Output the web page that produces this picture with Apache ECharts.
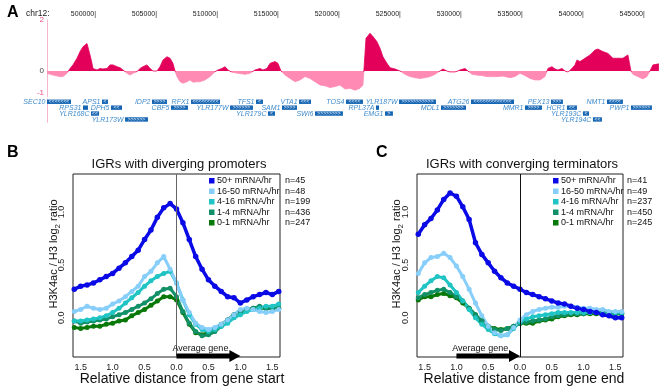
<!DOCTYPE html>
<html lang="en">
<head>
<meta charset="UTF-8">
<title>H3K4ac / H3</title>
<script src="https://cdn.jsdelivr.net/npm/echarts@6/dist/echarts.min.js"></script>
<style>
    html, body {margin: 0; padding: 0; background: #fff;}
    #main {width: 659px; height: 390px;}
</style>
</head>
<body>
<div id="main"></div>
<script>
// ---- panel A: chr12 track ----
var trackTicks = [500000, 505000, 510000, 515000, 520000, 525000, 530000, 535000, 540000, 545000];
var trackPos = [495980, 496470, 497050, 497290, 497620, 497870, 498110, 498440, 498690, 498930, 499260, 499340, 499510, 499670, 499750,
    500080, 500330, 500570, 500900, 501150, 501390, 501720, 501970, 502210, 502540, 502790, 503030, 503360, 503610, 503850,
    504180, 504430, 504670, 505000, 505250, 505490, 505820, 506070, 506310, 506480, 506640, 506890, 507130, 507460, 507710,
    507950, 508280, 508530, 508940, 509350, 509760, 510000, 510330, 510580, 510820, 511150, 511640, 512220, 512630, 513040,
    513450, 513690, 514020, 514270, 514680, 514920, 515170, 515500, 515910, 516320, 516730, 517140, 517550, 517960, 518370,
    518780, 519190, 519600, 520010, 520420, 520830, 521240, 521650, 521890, 522020, 522140, 522220, 522470, 522710, 523040,
    523290, 523530, 523860, 524110, 524520, 524930, 525340, 525750, 526160, 526570, 526980, 527390, 527800, 528210, 528450,
    528780, 529030, 529440, 529850, 530260, 530500, 530830, 531240, 531650, 532060, 532470, 532880, 533370, 533950, 534360,
    534770, 535180, 535590, 536000, 536410, 536820, 537060, 537390, 537640, 537880, 538210, 538460, 538700, 539030, 539280,
    539440, 539690, 540100, 540510, 540920, 541160, 541570, 541980, 542390, 542800, 543210, 543620, 543870, 544030, 544440,
    544850, 545180, 545430, 545670, 545920, 546160];
var trackVal = [-0.09, -0.16, -0.22, -0.22, -0.09, 0.10, 0.24, 0.50, 0.76, 0.95, 1.08, 1.02, 0.63, 0.30, 0.10,
    0.04, 0.10, 0.08, 0.10, 0.24, 0.24, 0.17, 0.13, 0.04, -0.09, -0.16, -0.09, -0.03, 0.10, 0.17,
    0.24, 0.10, 0.00, 0.00, 0.17, 0.43, 0.56, 0.50, 0.30, 0.00, -0.22, -0.42, -0.48, -0.42, -0.35,
    -0.44, -0.42, -0.42, -0.35, -0.22, -0.03, 0.04, 0.10, 0.17, 0.04, -0.05, -0.09, -0.13, -0.09, 0.04,
    0.10, 0.04, 0.10, 0.30, 0.37, 0.30, 0.00, -0.16, -0.29, -0.42, -0.35, -0.22, -0.29, -0.42, -0.55,
    -0.58, -0.65, -0.61, -0.55, -0.71, -0.68, -0.75, -0.68, -0.55, -0.50, 1.28, 1.35, 1.48, 1.35, 1.15,
    0.89, 0.56, 0.30, 0.13, 0.08, 0.00, -0.13, -0.22, -0.26, -0.29, -0.26, -0.22, -0.13, 0.00, 0.08,
    0.00, -0.05, -0.05, 0.04, 0.10, 0.00, -0.13, -0.16, -0.18, -0.22, -0.22, -0.22, -0.20, -0.26, -0.22,
    -0.09, -0.18, -0.29, -0.35, -0.35, -0.22, 0.10, 0.17, 0.08, 0.04, 0.10, 0.00, -0.05, 0.10, 0.24,
    0.43, 0.37, 0.50, 0.63, 0.82, 0.86, 0.76, 0.69, 0.50, 0.50, 0.50, 0.63, 0.00, -0.13, -0.22,
    -0.31, -0.22, 0.00, 0.24, 0.26, 0.28];

// genes under the track (row 0 = top row, strand 1 = >, -1 = <)
var geneName = ['SEC10', 'RPS31', 'YLR168C', 'APS1', 'DPH5', 'YLR173W', 'IDP2', 'CBF5', 'RFX1', 'YLR177W', 'TFS1', 'YLR179C', 'SAM1', 'VTA1',
    'SWI6', 'TOS4', 'RPL37A', 'EMG1', 'YLR187W', 'MDL1', 'ATG26', 'MMR1', 'PEX13', 'HCR1', 'YLR193C', 'YLR194C', 'NMT1', 'PWP1'];
var geneStart = [495000, 498930, 499590, 500490, 501230, 502380, 504590, 506150, 507790, 510990, 513120, 514100, 515250, 516650,
    517960, 520500, 522960, 523700, 524850, 528290, 530750, 535180, 537310, 538620, 539930, 540750, 541900, 543870];
var geneEnd = [497950, 499340, 500250, 500980, 502130, 504260, 505820, 507540, 510170, 512870, 513690, 514680, 516480, 517630,
    520250, 521890, 523210, 524350, 527880, 530340, 534280, 536570, 538290, 539440, 540430, 541490, 543210, 545590];
var geneRow = [0, 1, 2, 0, 1, 3, 0, 1, 0, 1, 0, 2, 1, 0, 2, 0, 1, 2, 0, 1, 0, 1, 0, 1, 2, 3, 0, 1];
var geneStrand = [-1, 1, -1, -1, -1, 1, 1, 1, -1, 1, -1, -1, 1, -1, 1, -1, 1, 1, 1, 1, -1, 1, 1, -1, -1, -1, -1, 1];

// ---- panels B and C ----
var groupNames = ['50+ mRNA/hr', '16-50 mRNA/hr', '4-16 mRNA/hr', '1-4 mRNA/hr', '0-1 mRNA/hr'];
var groupColors = ['#0a0ae6', '#87cefa', '#20c4c4', '#129068', '#087808'];
var nB = [45, 48, 199, 436, 247];
var nC = [41, 49, 237, 450, 245];
var distTicks = [-1.5, -1, -0.5, 0, 0.5, 1, 1.5];
var ratioTicks = [0, 0.5, 1];
var dist = [-1.6, -1.5, -1.4, -1.3, -1.2, -1.1, -1.0, -0.9, -0.8, -0.7, -0.6, -0.5, -0.4, -0.3, -0.2, -0.1, 0,
    0.1, 0.2, 0.3, 0.4, 0.5, 0.6, 0.7, 0.8, 0.9, 1.0, 1.1, 1.2, 1.3, 1.4, 1.5, 1.6];

var B50 = [0.27, 0.30, 0.31, 0.33, 0.36, 0.39, 0.42, 0.47, 0.52, 0.58, 0.64, 0.74, 0.83, 0.95, 1.04, 1.08, 1.03,
    0.90, 0.74, 0.58, 0.46, 0.36, 0.30, 0.25, 0.20, 0.19, 0.14, 0.17, 0.20, 0.22, 0.24, 0.22, 0.25];
var B16 = [0.06, 0.08, 0.11, 0.09, 0.08, 0.09, 0.13, 0.16, 0.20, 0.25, 0.30, 0.39, 0.44, 0.52, 0.58, 0.46, 0.33,
    0.17, 0.05, -0.05, -0.09, -0.11, -0.09, -0.06, -0.02, 0.03, 0.08, 0.09, 0.08, 0.06, 0.05, 0.06, 0.08];
var B4 = [-0.03, -0.03, -0.02, -0.01, 0.00, 0.02, 0.05, 0.09, 0.14, 0.19, 0.24, 0.30, 0.35, 0.39, 0.42, 0.44, 0.33,
    0.17, 0.03, -0.06, -0.11, -0.13, -0.11, -0.08, -0.05, 0.00, 0.03, 0.06, 0.08, 0.09, 0.11, 0.11, 0.13];
var B1 = [-0.03, -0.05, -0.04, -0.03, -0.02, -0.01, 0.01, 0.03, 0.05, 0.08, 0.11, 0.14, 0.18, 0.23, 0.27, 0.28, 0.20,
    0.06, -0.05, -0.13, -0.17, -0.16, -0.13, -0.08, -0.02, 0.03, 0.06, 0.08, 0.09, 0.11, 0.09, 0.09, 0.09];
var B0 = [-0.09, -0.10, -0.09, -0.08, -0.08, -0.06, -0.05, -0.03, -0.02, 0.02, 0.05, 0.08, 0.12, 0.16, 0.20, 0.20, 0.17,
    0.05, -0.06, -0.14, -0.16, -0.14, -0.11, -0.06, -0.02, 0.03, 0.06, 0.08, 0.09, 0.09, 0.09, 0.09, 0.09];

var C50 = [0.79, 0.88, 0.94, 1.02, 1.12, 1.18, 1.15, 1.05, 0.93, 0.71, 0.60, 0.52, 0.44, 0.38, 0.33, 0.30, 0.27,
    0.24, 0.22, 0.20, 0.18, 0.16, 0.14, 0.13, 0.11, 0.09, 0.08, 0.06, 0.05, 0.03, 0.02, 0.00, 0.00];
var C16 = [0.42, 0.52, 0.57, 0.58, 0.61, 0.57, 0.49, 0.39, 0.27, 0.14, 0.02, -0.08, -0.14, -0.17, -0.16, -0.09, -0.02,
    0.03, 0.06, 0.08, 0.09, 0.10, 0.10, 0.11, 0.11, 0.10, 0.09, 0.09, 0.08, 0.08, 0.06, 0.06, 0.06];
var C4 = [0.24, 0.30, 0.35, 0.39, 0.38, 0.31, 0.24, 0.16, 0.08, 0.00, -0.06, -0.11, -0.15, -0.17, -0.16, -0.10, -0.04,
    -0.01, 0.01, 0.02, 0.03, 0.04, 0.05, 0.05, 0.05, 0.05, 0.05, 0.05, 0.05, 0.04, 0.04, 0.05, 0.05];
var C1 = [0.19, 0.22, 0.24, 0.26, 0.27, 0.24, 0.20, 0.16, 0.09, 0.03, -0.03, -0.08, -0.11, -0.12, -0.10, -0.08, -0.05,
    -0.04, -0.03, -0.02, -0.01, 0.01, 0.02, 0.03, 0.04, 0.04, 0.04, 0.05, 0.05, 0.05, 0.05, 0.04, 0.04];
var C0 = [0.17, 0.20, 0.20, 0.22, 0.23, 0.21, 0.19, 0.14, 0.09, 0.03, -0.03, -0.08, -0.10, -0.11, -0.10, -0.08, -0.05,
    -0.05, -0.05, -0.03, -0.02, -0.01, 0.01, 0.02, 0.03, 0.03, 0.04, 0.04, 0.04, 0.04, 0.04, 0.04, 0.04];

var arrowB = [0, 1.0];   // average gene, B
var arrowC = [-1.0, 0];  // average gene, C

var FONT = '"Liberation Sans", Arial, sans-serif';
var POS = '#e3005a', NEG = '#ff8ab4', AXPINK = '#f6b6cb';
var yLo = -0.37, yHi = 1.36;

var myChart = echarts.init(document.getElementById('main'));

// track colour: crimson above 0, pink below (gradient over the shape's own box)
var tMax = Math.max.apply(null, trackVal), tMin = Math.min.apply(null, trackVal);
var zeroAt = tMax / (tMax - tMin);
var trackFill = new echarts.graphic.LinearGradient(0, 0, 0, 1, [
    {offset: 0, color: POS}, {offset: zeroAt, color: POS},
    {offset: zeroAt, color: NEG}, {offset: 1, color: NEG}
]);

function geneItem(params, api) {
    var i = params.dataIndex;
    var a = api.coord([api.value(0), api.value(2)]);
    var b = api.coord([api.value(1), api.value(2)]);
    var x0 = Math.max(a[0], params.coordSys.x);
    var w = Math.max(b[0] - x0, 3);
    var h = 4.4;
    var n = Math.max(0, Math.floor((w - 2) / 3));
    var chev = new Array(n + 1).join(geneStrand[i] > 0 ? '>' : '<');
    return {
        type: 'group',
        children: [
            {type: 'rect', shape: {x: x0, y: a[1] - h / 2, width: w, height: h}, style: {fill: '#1665b3'}},
            {type: 'text', x: x0 + w / 2, y: a[1], style: {text: chev, fill: '#fff', fontSize: 5, align: 'center', verticalAlign: 'middle', fontFamily: FONT}},
            {type: 'text', x: x0 - 1.5, y: a[1] + 0.5, style: {text: geneName[i], fill: '#3f8bcc', fontSize: 7, fontStyle: 'italic', align: 'right', verticalAlign: 'middle', fontFamily: FONT}}
        ]
    };
}

function arrowItem(params, api) {
    var p0 = api.coord([api.value(0), yLo]);
    var p1 = api.coord([api.value(1), yLo]);
    var y = p0[1] - 1;
    var head = 11, bh = 2.6, hh = 6;
    return {
        type: 'group',
        children: [
            {type: 'polygon', shape: {points: [[p0[0], y - bh], [p1[0] - head, y - bh], [p1[0] - head, y - hh], [p1[0], y],
                        [p1[0] - head, y + hh], [p1[0] - head, y + bh], [p0[0], y + bh]]}, style: {fill: '#000'}},
            {type: 'text', x: (p0[0] + p1[0]) / 2 - 8, y: y - 2.5, style: {text: 'Average gene', fontSize: 9, fill: '#111', align: 'center', verticalAlign: 'bottom', fontFamily: FONT}}
        ]
    };
}

function panelSeries(list, xi, zeroColor) {
    // draw low groups first so that 50+ is on top
    var out = [];
    for (var k = list.length - 1; k >= 0; k--) {
        var vals = list[k];
        var s = {
            name: groupNames[k],
            type: 'line',
            xAxisIndex: xi,
            yAxisIndex: xi,
            data: dist.map(function (d, i) { return [d, vals[i]]; }),
            symbol: 'circle',
            symbolSize: k == 0 ? 5.5 : 5,
            showSymbol: true,
            lineStyle: {width: k == 0 ? 3.5 : 3, color: groupColors[k]},
            itemStyle: {color: groupColors[k]},
            silent: true
        };
        if (k == list.length - 1) {
            s.markLine = {
                silent: true, symbol: ['none', 'none'], label: {show: false},
                lineStyle: {color: zeroColor, width: 1, type: 'solid'},
                data: [{xAxis: 0}]
            };
        }
        out.push(s);
    }
    return out;
}

// legend + texts
var graphics = [
    {type: 'text', x: 7, y: 13, style: {text: 'A', font: 'bold 16px ' + FONT, fill: '#000', verticalAlign: 'middle'}},
    {type: 'text', x: 26, y: 14, style: {text: 'chr12:', fontSize: 8.5, fontFamily: FONT, fill: '#222', verticalAlign: 'middle'}},
    {type: 'text', x: 7, y: 153, style: {text: 'B', font: 'bold 16px ' + FONT, fill: '#000', verticalAlign: 'middle'}},
    {type: 'text', x: 376, y: 153, style: {text: 'C', font: 'bold 16px ' + FONT, fill: '#000', verticalAlign: 'middle'}},
    {type: 'text', x: 179, y: 164, style: {text: 'IGRs with diverging promoters', fontSize: 13, fontFamily: FONT, fill: '#111', align: 'center', verticalAlign: 'middle'}},
    {type: 'text', x: 522, y: 164, style: {text: 'IGRs with converging terminators', fontSize: 13, fontFamily: FONT, fill: '#111', align: 'center', verticalAlign: 'middle'}},
    {type: 'text', x: 182, y: 379, style: {text: 'Relative distance from gene start', fontSize: 14, fontFamily: FONT, fill: '#111', align: 'center', verticalAlign: 'middle'}},
    {type: 'text', x: 524, y: 379, style: {text: 'Relative distance from gene end', fontSize: 14, fontFamily: FONT, fill: '#111', align: 'center', verticalAlign: 'middle'}}
];
[[52, 'B'], [395, 'C']].forEach(function (p) {
    graphics.push({
        type: 'text', x: p[0], y: 254, rotation: Math.PI / 2,
        style: {
            text: '{a|H3K4ac / H3 log}{s|2}{a| ratio}', align: 'center', verticalAlign: 'middle', fill: '#111',
            rich: {a: {fontSize: 11, fontFamily: FONT, lineHeight: 14, verticalAlign: 'bottom'},
                s: {fontSize: 8, fontFamily: FONT, lineHeight: 14, verticalAlign: 'bottom', padding: [0, 0, -3, 0]}}
        }
    });
});
function addLegend(sqX, txtX, nX, ns) {
    var rows = [181, 191.5, 202, 212.5, 223];
    groupNames.forEach(function (nm, k) {
        graphics.push({type: 'rect', shape: {x: sqX, y: rows[k] - 3, width: 5.5, height: 5.5}, style: {fill: groupColors[k]}});
        graphics.push({type: 'text', x: txtX, y: rows[k], style: {text: nm, fontSize: 9, fontFamily: FONT, fill: '#111', verticalAlign: 'middle'}});
        graphics.push({type: 'text', x: nX, y: rows[k], style: {text: 'n=' + ns[k], fontSize: 9, fontFamily: FONT, fill: '#111', verticalAlign: 'middle'}});
    });
}
addLegend(209, 217, 285, nB);
addLegend(553, 561, 627, nC);

function panelX(gi) {
    return {
        gridIndex: gi, type: 'value', min: -1.62, max: 1.62,
        splitLine: {show: false}, axisLine: {show: false}, axisTick: {show: false},
        axisLabel: {customValues: distTicks, formatter: function (v) { return Math.abs(v).toFixed(1); }, fontSize: 9, color: '#222', margin: 6, fontFamily: FONT}
    };
}
function panelY(gi) {
    return {
        gridIndex: gi, type: 'value', min: yLo, max: yHi,
        splitLine: {show: false}, axisLine: {show: false}, axisTick: {show: false},
        axisLabel: {customValues: ratioTicks, formatter: function (v) { return v.toFixed(1); }, rotate: 90, fontSize: 9, color: '#222', margin: 7, fontFamily: FONT}
    };
}

var option = {
    animation: false,
    textStyle: {fontFamily: FONT},
    grid: [
        {left: 47, right: 0, top: 20, height: 76.5},
        {left: 47, right: 0, top: 98.8, height: 23.6},
        {left: 73, width: 207, top: 174, height: 183, show: true, borderColor: '#222', borderWidth: 1},
        {left: 417, width: 206, top: 174, height: 183, show: true, borderColor: '#222', borderWidth: 1}
    ],
    xAxis: [
        {
            gridIndex: 0, type: 'value', position: 'top', min: 495980, max: 546170,
            splitLine: {show: false}, axisLine: {show: false}, axisTick: {show: false},
            axisLabel: {customValues: trackTicks, formatter: function (v) { return v + '|'; }, align: 'right', fontSize: 7, color: '#222', margin: 2}
        },
        {gridIndex: 1, type: 'value', min: 495980, max: 546170, show: false},
        panelX(2),
        panelX(3)
    ],
    yAxis: [
        {
            gridIndex: 0, type: 'value', min: -1, max: 2,
            splitLine: {show: false}, axisTick: {show: false},
            axisLine: {show: true, lineStyle: {color: AXPINK, width: 1}},
            axisLabel: {customValues: [-1, 0, 2], fontSize: 8, margin: 3, verticalAlignMinLabel: 'bottom',
                color: function (v) { return parseFloat(v) == 0 ? '#444' : '#e8508a'; }}
        },
        {
            gridIndex: 1, type: 'value', min: -0.5, max: 3.5, inverse: true,
            splitLine: {show: false}, axisTick: {show: false}, axisLabel: {show: false},
            axisLine: {show: true, lineStyle: {color: AXPINK, width: 1}}
        },
        panelY(2),
        panelY(3)
    ],
    graphic: graphics,
    series: [
        {
            type: 'line', xAxisIndex: 0, yAxisIndex: 0, silent: true,
            data: trackPos.map(function (p, i) { return [p, trackVal[i]]; }),
            symbol: 'none', lineStyle: {width: 0.8, color: trackFill}, areaStyle: {opacity: 1, color: trackFill}
        },
        {
            type: 'custom', xAxisIndex: 1, yAxisIndex: 1, silent: true, z: 3,
            data: geneName.map(function (n, i) { return [geneStart[i], geneEnd[i], geneRow[i]]; }),
            renderItem: geneItem
        }
    ]
        .concat(panelSeries([B50, B16, B4, B1, B0], 2, '#666'))
        .concat([{type: 'custom', xAxisIndex: 2, yAxisIndex: 2, silent: true, z: 5, data: [arrowB], renderItem: arrowItem}])
        .concat(panelSeries([C50, C16, C4, C1, C0], 3, '#111'))
        .concat([{type: 'custom', xAxisIndex: 3, yAxisIndex: 3, silent: true, z: 5, data: [arrowC], renderItem: arrowItem}])
};

myChart.setOption(option);
</script>
</body>
</html>
